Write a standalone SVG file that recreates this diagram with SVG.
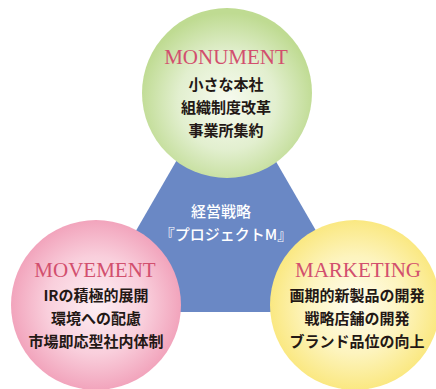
<svg xmlns="http://www.w3.org/2000/svg" width="436" height="389" viewBox="0 0 436 389">
<defs>
<radialGradient id="gGreen" cx="50%" cy="55%" r="52%">
<stop offset="0" stop-color="#f7fbf0"/>
<stop offset="0.55" stop-color="#e2efcf"/>
<stop offset="1" stop-color="#bfdb92"/>
</radialGradient>
<radialGradient id="gPink" cx="50%" cy="50%" r="52%">
<stop offset="0" stop-color="#fdeef3"/>
<stop offset="0.55" stop-color="#f9cfdc"/>
<stop offset="1" stop-color="#f1a0b9"/>
</radialGradient>
<radialGradient id="gYellow" cx="50%" cy="50%" r="52%">
<stop offset="0" stop-color="#fffdf0"/>
<stop offset="0.55" stop-color="#fdf4be"/>
<stop offset="1" stop-color="#fae77c"/>
</radialGradient>
<style>
.title{font-family:"Liberation Serif","Times New Roman",serif;font-size:21px;fill:#d24f6e;text-anchor:middle}
.jp{font-family:"Noto Sans CJK JP",sans-serif;font-size:15px;font-weight:bold;fill:#231815;text-anchor:middle}
.center{font-family:"Noto Sans CJK JP",serif;font-size:15px;font-weight:500;fill:#ffffff;text-anchor:middle}
</style>
</defs>
<g id="connectors">
<polygon id="strategy-triangle" points="226,75 89,312 363,312" fill="#6a88c5"/>
</g>
<g id="center">
<text class="center" x="221" y="217">経営戦略</text>
<text class="center" x="226" y="240">『プロジェクトM』</text>
</g>
<g id="monument">
<circle cx="227" cy="93" r="85" fill="url(#gGreen)"/>
<text class="title" x="226" y="64">MONUMENT</text>
<text class="jp" x="226" y="90">小さな本社</text>
<text class="jp" x="226" y="113">組織制度改革</text>
<text class="jp" x="226" y="136">事業所集約</text>
</g>
<g id="movement">
<circle cx="96" cy="305" r="85" fill="url(#gPink)"/>
<text class="title" x="95" y="277">MOVEMENT</text>
<text class="jp" x="96" y="301">IRの積極的展開</text>
<text class="jp" x="96" y="324">環境への配慮</text>
<text class="jp" x="96" y="347">市場即応型社内体制</text>
</g>
<g id="marketing">
<circle cx="355" cy="305" r="85" fill="url(#gYellow)"/>
<text class="title" x="358" y="277">MARKETING</text>
<text class="jp" x="357" y="301">画期的新製品の開発</text>
<text class="jp" x="357" y="324">戦略店舗の開発</text>
<text class="jp" x="357" y="347">ブランド品位の向上</text>
</g>
</svg>
